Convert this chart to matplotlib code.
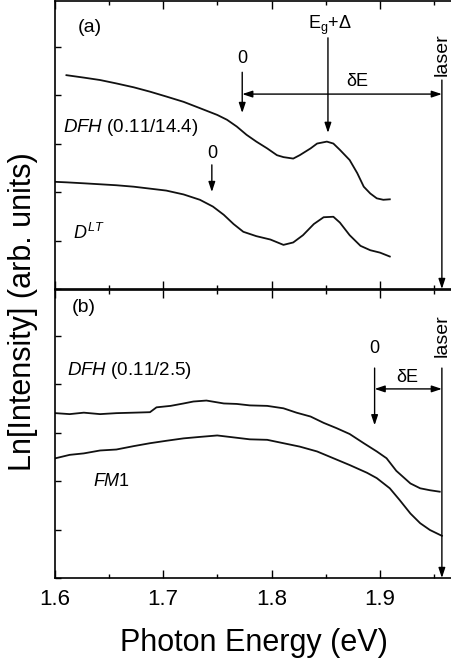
import matplotlib
matplotlib.use("Agg")
import matplotlib.pyplot as plt
from matplotlib.ticker import MultipleLocator, NullFormatter

plt.rcParams['font.family'] = ['Liberation Sans', 'DejaVu Sans']
plt.rcParams['mathtext.fontset'] = 'custom'
plt.rcParams['mathtext.rm'] = 'Liberation Sans'
plt.rcParams['mathtext.it'] = 'Liberation Sans:italic'

# panel (a) spectra
dfh_a_x = [1.611, 1.627, 1.642, 1.657, 1.673, 1.688, 1.703, 1.719, 1.734, 1.750,
           1.759, 1.768, 1.777, 1.786, 1.796, 1.805, 1.811, 1.820, 1.826, 1.836,
           1.842, 1.851, 1.857, 1.863, 1.872, 1.879, 1.885, 1.891, 1.897, 1.903, 1.909]
dfh_a_y = [4.41, 4.36, 4.31, 4.24, 4.16, 4.07, 3.97, 3.86, 3.73, 3.59,
           3.49, 3.35, 3.18, 3.04, 2.90, 2.76, 2.72, 2.69, 2.76, 2.90,
           3.00, 3.04, 3.00, 2.87, 2.66, 2.39, 2.11, 1.97, 1.87, 1.84, 1.85]

dlt_x = [1.601, 1.611, 1.627, 1.642, 1.657, 1.673, 1.688, 1.703, 1.719, 1.734,
         1.746, 1.756, 1.765, 1.774, 1.786, 1.799, 1.811, 1.820, 1.829, 1.839,
         1.848, 1.857, 1.863, 1.872, 1.882, 1.891, 1.900, 1.909]
dlt_y = [2.21, 2.20, 2.18, 2.16, 2.14, 2.11, 2.07, 2.03, 1.95, 1.84,
         1.70, 1.53, 1.34, 1.18, 1.09, 1.02, 0.91, 0.96, 1.11, 1.34,
         1.48, 1.49, 1.37, 1.11, 0.89, 0.80, 0.75, 0.67]

# panel (b) spectra
dfh_b_x = [1.601, 1.614, 1.627, 1.642, 1.657, 1.673, 1.688, 1.694, 1.707, 1.719,
           1.728, 1.740, 1.756, 1.768, 1.780, 1.796, 1.811, 1.823, 1.836, 1.848,
           1.860, 1.872, 1.885, 1.897, 1.906, 1.915, 1.928, 1.937, 1.946, 1.955]
dfh_b_y = [3.40, 3.38, 3.41, 3.38, 3.40, 3.41, 3.42, 3.52, 3.55, 3.60,
           3.64, 3.66, 3.60, 3.59, 3.56, 3.55, 3.50, 3.41, 3.33, 3.20,
           3.09, 2.97, 2.78, 2.61, 2.47, 2.21, 1.95, 1.85, 1.81, 1.78]

fm1_x = [1.601, 1.614, 1.627, 1.642, 1.657, 1.673, 1.688, 1.703, 1.719, 1.734,
         1.750, 1.765, 1.780, 1.796, 1.811, 1.826, 1.842, 1.857, 1.872, 1.888,
         1.897, 1.909, 1.918, 1.928, 1.937, 1.946, 1.957]
fm1_y = [2.47, 2.54, 2.57, 2.63, 2.65, 2.72, 2.78, 2.83, 2.88, 2.91,
         2.94, 2.90, 2.86, 2.85, 2.78, 2.71, 2.61, 2.47, 2.33, 2.17,
         2.06, 1.85, 1.61, 1.33, 1.13, 0.99, 0.87]

laser = 1.957
zero_a = [1.773, 1.745]
zero_b = 1.895
eg_delta = 1.852

fig = plt.figure(figsize=(4.51, 6.63), dpi=100)
ax_a = fig.add_axes([54.5 / 451, 1 - 289 / 663, 1 - 54.5 / 451, 288 / 663])
ax_b = fig.add_axes([54.5 / 451, 1 - 578 / 663, 1 - 54.5 / 451, 288 / 663])

for ax in (ax_a, ax_b):
    ax.set_xlim(1.6, 1.9654)
    ax.set_ylim(0, 5.94)
    ax.spines['right'].set_visible(False)
    for s in ['left', 'top', 'bottom']:
        ax.spines[s].set_linewidth(1.2)
    ax.xaxis.set_major_locator(MultipleLocator(0.1))
    ax.xaxis.set_minor_locator(MultipleLocator(0.05))
    ax.yaxis.set_major_locator(MultipleLocator(1))
    ax.yaxis.set_major_formatter(NullFormatter())
    ax.tick_params(axis='x', which='major', direction='in', top=True, length=6, width=1, labelsize=16, pad=8)
    ax.tick_params(axis='x', which='minor', direction='in', top=True, length=3, width=1)
    ax.tick_params(axis='y', which='major', direction='in', right=False, length=4, width=1)

ax_a.tick_params(axis='x', which='both', labelbottom=False)

lw = 1.3
ax_a.plot(dfh_a_x, dfh_a_y, color='#111111', lw=lw)
ax_a.plot(dlt_x, dlt_y, color='#111111', lw=lw)
ax_b.plot(dfh_b_x, dfh_b_y, color='#111111', lw=lw)
ax_b.plot(fm1_x, fm1_y, color='#111111', lw=lw)

arr = dict(arrowstyle='-|>,head_length=0.6,head_width=0.2', color='black', lw=1, shrinkA=0, shrinkB=0)
darr = dict(arrowstyle='<|-|>,head_length=0.6,head_width=0.2', color='black', lw=1, shrinkA=0, shrinkB=0)
fs = 13

# panel (a) annotations
ax_a.text(1.6327, 5.40, '(a)', fontsize=14, ha='center', va='center')
ax_a.text(zero_a[0], 4.76, '0', fontsize=fs, ha='center', va='center')
ax_a.annotate('', xy=(zero_a[0], 3.63), xytext=(zero_a[0], 4.47), arrowprops=arr)
ax_a.annotate('', xy=(laser, 4.02), xytext=(zero_a[0], 4.02), arrowprops=darr)
ax_a.text(1.879, 4.27, 'δE', fontsize=fs, ha='center', va='center')
ax_a.text(1.854, 5.44, 'E$_\\mathregular{g}$+Δ', fontsize=fs, ha='center', va='center')
ax_a.annotate('', xy=(eg_delta, 3.22), xytext=(eg_delta, 5.18), arrowprops=arr)
ax_a.text(laser, 4.84, 'laser', fontsize=14, rotation=90, ha='center', va='center')
ax_a.annotate('', xy=(laser, 0.0), xytext=(laser, 4.31), arrowprops=arr)
ax_a.text(zero_a[1], 2.80, '0', fontsize=fs, ha='center', va='center')
ax_a.annotate('', xy=(zero_a[1], 2.0), xytext=(zero_a[1], 2.56), arrowprops=arr)
ax_a.text(1.6078, 3.34, '$\\mathit{DFH}$ (0.11/14.4)', fontsize=13.5, ha='left', va='center')
ax_a.text(1.6173, 1.15, '$D^{LT}$', fontsize=13, ha='left', va='center')

# panel (b) annotations
ax_b.text(1.6272, 5.57, '(b)', fontsize=14, ha='center', va='center')
ax_b.text(1.6115, 4.29, '$\\mathit{DFH}$ (0.11/2.5)', fontsize=13.5, ha='left', va='center')
ax_b.text(1.6355, 1.98, '$\\mathit{FM}$1', fontsize=13, ha='left', va='center')
ax_b.text(zero_b, 4.74, '0', fontsize=fs, ha='center', va='center')
ax_b.annotate('', xy=(zero_b, 3.15), xytext=(zero_b, 4.33), arrowprops=arr)
ax_b.annotate('', xy=(laser, 3.90), xytext=(zero_b, 3.90), arrowprops=darr)
ax_b.text(1.925, 4.14, 'δE', fontsize=fs, ha='center', va='center')
ax_b.text(laser, 4.99, 'laser', fontsize=14, rotation=90, ha='center', va='center')
ax_b.annotate('', xy=(laser, 0.0), xytext=(laser, 4.33), arrowprops=arr)

fig.text(254 / 451, 1 - 643 / 663, 'Photon Energy (eV)', fontsize=22, ha='center', va='center')
fig.text(23 / 451, 1 - 312 / 663, 'Ln[Intensity] (arb. units)', fontsize=22, rotation=90, ha='center', va='center')

fig.savefig('out.png', dpi=100)
